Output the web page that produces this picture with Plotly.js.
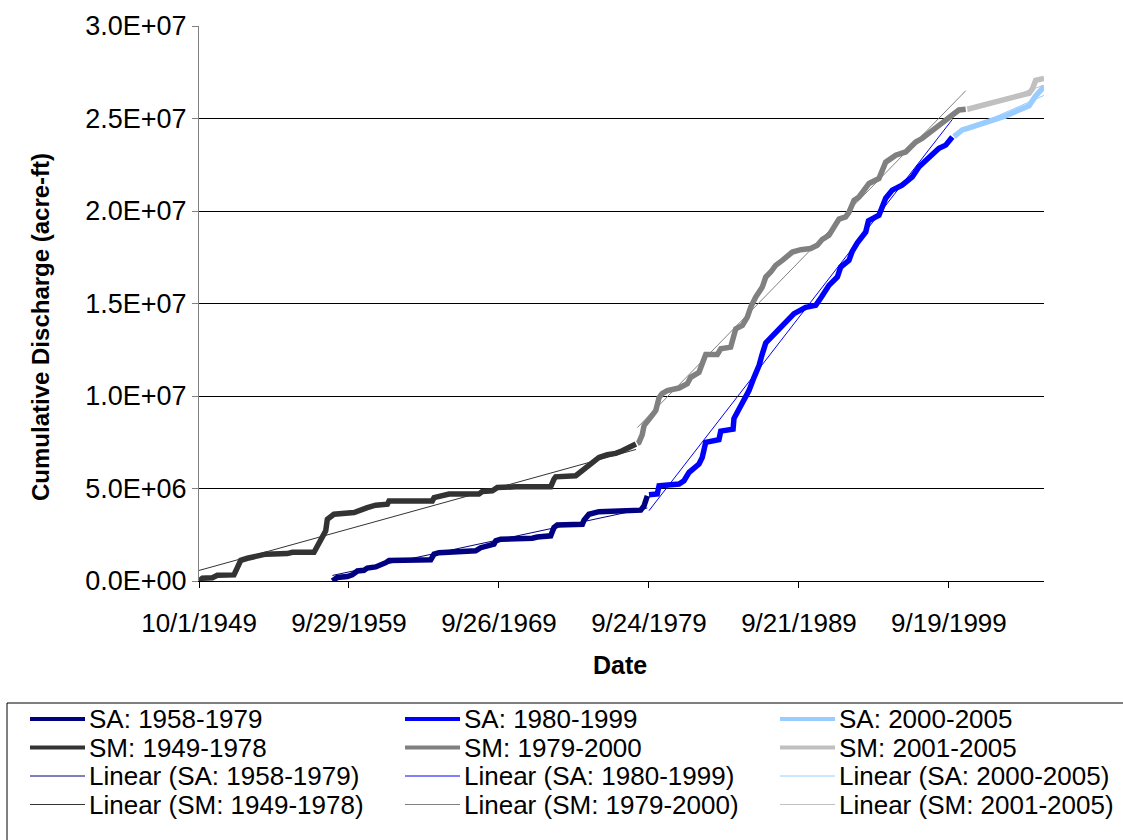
<!DOCTYPE html>
<html>
<head>
<meta charset="utf-8">
<script src="https://cdn.plot.ly/plotly-3.0.1.min.js"></script>
<style>
  html, body { margin: 0; padding: 0; background: #fff; overflow: hidden; }
  #chart { width: 1123px; height: 840px; }
</style>
</head>
<body>
<div id="chart"></div>
<script>
// Cumulative discharge (acre-ft), dates given as decimal years.
const saEarlyYears = [1958.64,1958.96,1959.63,1959.96,1960.30,1960.74,1960.96,1961.52,1962.19,1962.41,1965.19,1965.41,1965.74,1967.52,1968.18,1968.52,1968.85,1969.40,1969.52,1969.85,1971.96,1972.29,1973.18,1973.40,1973.62,1975.29,1975.40,1975.73,1976.40,1977.51,1979.18,1979.40,1979.51,1979.62];
const saEarlyValues = [0,190000,240000,330000,540000,580000,700000,760000,990000,1110000,1150000,1450000,1530000,1600000,1630000,1800000,1900000,1990000,2170000,2260000,2310000,2380000,2440000,2890000,3030000,3070000,3290000,3610000,3750000,3790000,3830000,4060000,4430000,4600000];

const saMidYears = [1979.73,1980.28,1980.40,1981.73,1982.06,1982.40,1983.06,1983.28,1983.51,1984.39,1984.51,1985.33,1985.39,1985.73,1986.17,1986.39,1986.73,1987.06,1987.28,1987.51,1988.17,1988.84,1989.39,1990.17,1990.84,1991.22,1991.72,1992.28,1992.50,1993.05,1993.27,1993.61,1994.17,1994.35,1995.05,1995.50,1995.94,1996.59,1997.27,1997.72,1998.38,1999.05,1999.50,1999.94];
const saMidValues = [4660000,4700000,5150000,5240000,5420000,5870000,6320000,6680000,7500000,7640000,8100000,8210000,8780000,9260000,9860000,10290000,11010000,11650000,12280000,12870000,13430000,13950000,14450000,14790000,14900000,15350000,15980000,16430000,16970000,17330000,17820000,18280000,18870000,19470000,19770000,20690000,21130000,21400000,21850000,22390000,22930000,23390000,23560000,24000000];

const saLateYears = [2000.05,2000.60,2001.05,2001.58,2002.38,2003.05,2003.49,2004.38,2005.05,2005.49,2005.83,2006.05];
const saLateValues = [24020000,24380000,24490000,24620000,24830000,25000000,25140000,25460000,25690000,26220000,26520000,26730000];

const smEarlyYears = [1949.75,1949.97,1950.64,1950.97,1952.08,1952.30,1952.53,1952.97,1953.86,1954.19,1955.63,1955.97,1957.41,1957.63,1957.96,1958.19,1958.30,1958.74,1960.08,1960.41,1960.96,1961.52,1962.30,1962.41,1964.74,1965.29,1965.41,1966.19,1966.41,1968.40,1968.62,1969.29,1969.62,1970.85,1973.18,1973.40,1973.51,1974.85,1975.29,1975.62,1975.95,1976.40,1976.95,1977.51,1977.95,1978.40,1978.62,1978.86];
const smEarlyValues = [0,150000,180000,310000,330000,720000,1120000,1230000,1340000,1450000,1480000,1550000,1550000,1900000,2350000,2710000,3340000,3610000,3700000,3830000,3970000,4100000,4150000,4330000,4330000,4330000,4510000,4600000,4700000,4700000,4840000,4880000,5050000,5090000,5090000,5510000,5630000,5690000,5960000,6230000,6410000,6680000,6830000,6900000,7040000,7260000,7370000,7410000];

const smMidYears = [1978.95,1979.06,1979.28,1979.40,1979.84,1980.18,1980.40,1980.60,1980.95,1981.73,1982.28,1982.51,1983.06,1983.28,1983.51,1984.28,1984.51,1985.17,1985.39,1985.51,1985.95,1986.28,1986.51,1986.84,1987.28,1987.51,1987.84,1988.17,1988.61,1989.28,1989.84,1990.50,1990.94,1991.28,1991.72,1991.94,1992.39,1992.83,1993.05,1993.39,1993.72,1994.39,1995.05,1995.50,1996.17,1996.83,1997.50,1997.94,1998.60,1999.27,1999.94,2000.38,2000.83];
const smMidValues = [7440000,7490000,7910000,8400000,8850000,9210000,9910000,10130000,10290000,10430000,10660000,11010000,11280000,11740000,12240000,12240000,12550000,12640000,13180000,13630000,13810000,14260000,14810000,15350000,15890000,16430000,16700000,17060000,17330000,17780000,17910000,17970000,18150000,18470000,18690000,18960000,19560000,19680000,19930000,20580000,20760000,21490000,21760000,22640000,23020000,23190000,23730000,23930000,24380000,24760000,25190000,25460000,25500000];

const smLateYears = [2000.94,2001.94,2003.05,2004.16,2005.05,2005.27,2005.49,2006.05];
const smLateValues = [25500000,25730000,25960000,26180000,26360000,26600000,27060000,27170000];

// Linear trend lines (end points of each fitted line)
const trendSaEarlyYears = [1958.64, 1979.62];
const trendSaEarlyValues = [300000, 3950000];
const trendSaMidYears = [1979.73, 1999.94];
const trendSaMidValues = [3800000, 24950000];
const trendSaLateYears = [2000.05, 2006.05];
const trendSaLateValues = [24100000, 26250000];
const trendSmEarlyYears = [1949.75, 1978.86];
const trendSmEarlyValues = [570000, 7110000];
const trendSmMidYears = [1978.95, 2000.83];
const trendSmMidValues = [8290000, 26500000];
const trendSmLateYears = [2000.94, 2006.05];
const trendSmLateValues = [25400000, 26800000];

// Axis ticks
const xTickDates = ['1949-10-01','1959-09-29','1969-09-26','1979-09-24','1989-09-21','1999-09-19'];
const xTickLabels = ['10/1/1949','9/29/1959','9/26/1969','9/24/1979','9/21/1989','9/19/1999'];
const yTickValues = [0, 5000000, 10000000, 15000000, 20000000, 25000000, 30000000];
const yTickLabels = ['0.0E+00','5.0E+06','1.0E+07','1.5E+07','2.0E+07','2.5E+07','3.0E+07'];

const seriesNames = ['SA: 1958-1979','SA: 1980-1999','SA: 2000-2005','SM: 1949-1978','SM: 1979-2000','SM: 2001-2005'];

// ---- helpers ----
function yearToDate(y) {
  const yr = Math.floor(y);
  const a = Date.UTC(yr, 0, 1), b = Date.UTC(yr + 1, 0, 1);
  return new Date(a + (y - yr) * (b - a)).toISOString().slice(0, 19).replace('T', ' ');
}

const FONT = 'Liberation Sans, Arial, Helvetica, sans-serif';
const PLOT = { l: 199, t: 26, w: 845, h: 555, W: 1123, H: 840 };
const px2x = px => (px - PLOT.l) / PLOT.w;
const px2y = py => (PLOT.t + PLOT.h - py) / PLOT.h;

const colors = ['#000080', '#0000FF', '#99CCFF', '#333333', '#808080', '#C0C0C0'];
const seriesData = [
  [saEarlyYears, saEarlyValues], [saMidYears, saMidValues], [saLateYears, saLateValues],
  [smEarlyYears, smEarlyValues], [smMidYears, smMidValues], [smLateYears, smLateValues]
];
const trendData = [
  [trendSaEarlyYears, trendSaEarlyValues], [trendSaMidYears, trendSaMidValues], [trendSaLateYears, trendSaLateValues],
  [trendSmEarlyYears, trendSmEarlyValues], [trendSmMidYears, trendSmMidValues], [trendSmLateYears, trendSmLateValues]
];

const traces = [];
seriesData.forEach((d, i) => {
  traces.push({
    type: 'scatter', mode: 'lines', name: seriesNames[i],
    x: d[0].map(yearToDate), y: d[1],
    line: { color: colors[i], width: 5.5, shape: 'linear' },
    hoverinfo: 'skip'
  });
});
trendData.forEach((d, i) => {
  traces.push({
    type: 'scatter', mode: 'lines', name: 'Linear (' + seriesNames[i] + ')',
    x: d[0].map(yearToDate), y: d[1],
    line: { color: colors[i], width: 1 },
    hoverinfo: 'skip'
  });
});

// Legend box, drawn as shapes + text in a 3-column grid
const legendCols = [30, 405, 780];
const legendTextX = [87, 462, 837];
const legendRows = [719, 747.5, 776, 804.5];
const shapes = [{
  type: 'rect', xref: 'paper', yref: 'paper',
  x0: px2x(7), x1: px2x(1140), y0: px2y(703), y1: px2y(860),
  line: { color: '#000', width: 1 }, fillcolor: 'rgba(0,0,0,0)'
}];
const annotations = [];
traces.forEach((t, i) => {
  const c = i % 3, r = Math.floor(i / 3);
  const y = px2y(legendRows[r]);
  shapes.push({
    type: 'line', xref: 'paper', yref: 'paper',
    x0: px2x(legendCols[c]), x1: px2x(legendCols[c] + 55), y0: y, y1: y,
    line: { color: t.line.color, width: t.line.width > 1 ? 4 : 1 }
  });
  annotations.push({
    xref: 'paper', yref: 'paper', x: px2x(legendTextX[c]), y: y,
    xanchor: 'left', yanchor: 'middle', showarrow: false,
    text: t.name, font: { family: FONT, size: 26, color: '#000' }
  });
});

// Axis titles
annotations.push({
  xref: 'paper', yref: 'paper', x: px2x(40), y: px2y(327),
  xanchor: 'center', yanchor: 'middle', showarrow: false, textangle: -90,
  text: '<b>Cumulative Discharge (acre-ft)</b>', font: { family: FONT, size: 24, color: '#000' }
});
annotations.push({
  xref: 'paper', yref: 'paper', x: px2x(620), y: px2y(665),
  xanchor: 'center', yanchor: 'middle', showarrow: false,
  text: '<b>Date</b>', font: { family: FONT, size: 25, color: '#000' }
});

const layout = {
  width: PLOT.W, height: PLOT.H,
  margin: { l: PLOT.l, r: PLOT.W - PLOT.l - PLOT.w, t: PLOT.t, b: PLOT.H - PLOT.t - PLOT.h, pad: 0 },
  paper_bgcolor: '#ffffff', plot_bgcolor: '#ffffff',
  showlegend: false,
  font: { family: FONT, size: 25, color: '#000' },
  xaxis: {
    type: 'date', range: ['1949-10-01', '2006-01-18'],
    tickmode: 'array', tickvals: xTickDates, ticktext: xTickLabels,
    showgrid: false, zeroline: false,
    showline: true, linecolor: '#000', linewidth: 1,
    ticks: 'outside', ticklen: 6, tickcolor: '#000', tickwidth: 1,
    ticklabelstandoff: 13,
    tickfont: { family: FONT, size: 26, color: '#000' },
    fixedrange: true
  },
  yaxis: {
    range: [0, 30000000],
    tickmode: 'array', tickvals: yTickValues, ticktext: yTickLabels,
    showgrid: true, gridcolor: '#000', gridwidth: 1, zeroline: false,
    showline: true, linecolor: '#808080', linewidth: 1,
    ticks: 'outside', ticklen: 6, tickcolor: '#808080', tickwidth: 1,
    tickfont: { family: FONT, size: 27, color: '#000' },
    fixedrange: true
  },
  shapes: shapes,
  annotations: annotations
};

Plotly.newPlot('chart', traces, layout, { displayModeBar: false, staticPlot: true });
</script>
</body>
</html>
